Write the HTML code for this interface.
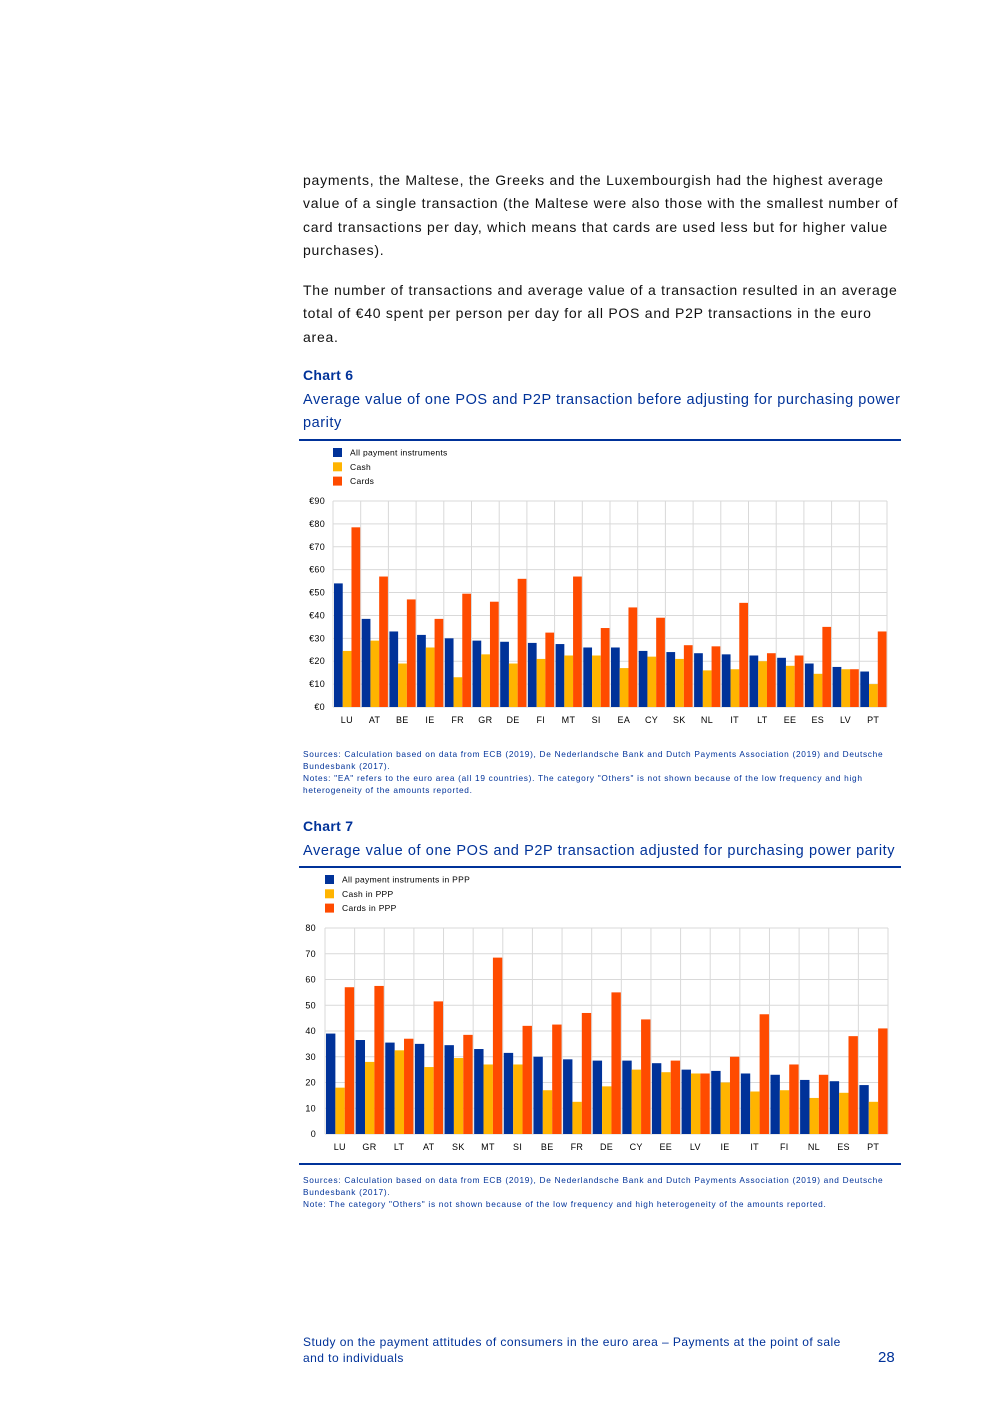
<!DOCTYPE html>
<html><head><meta charset="utf-8">
<style>
body{margin:0;background:#fff;}
#page{position:relative;width:992px;height:1403px;font-family:"Liberation Sans",Arial,sans-serif;}
.p{position:absolute;left:303px;width:620px;font-size:14px;line-height:23.3px;color:#111;letter-spacing:0.75px;white-space:nowrap;}
.h{position:absolute;left:303px;color:#003299;}
.rule{position:absolute;left:299px;width:602px;height:2px;background:#003299;}
.note{position:absolute;left:303px;width:620px;font-size:8.3px;line-height:12px;color:#003299;letter-spacing:0.7px;white-space:nowrap;}
svg{position:absolute;left:0;}
svg text{font-family:"Liberation Sans",Arial,sans-serif;letter-spacing:0.3px;}
</style></head><body>
<div id="page">
<div class="p" style="top:169px">payments, the Maltese, the Greeks and the Luxembourgish had the highest average<br>value of a single transaction (the Maltese were also those with the smallest number of<br>card transactions per day, which means that cards are used less but for higher value<br>purchases).</div>
<div class="p" style="top:279px">The number of transactions and average value of a transaction resulted in an average<br>total of €40 spent per person per day for all POS and P2P transactions in the euro<br>area.</div>
<div class="h" style="top:367px;font-size:14px;font-weight:bold;letter-spacing:0.3px">Chart 6</div>
<div class="h" style="top:389px;font-size:14.5px;line-height:23px;width:600px;letter-spacing:0.55px">Average value of one POS and P2P transaction before adjusting for purchasing power parity</div>
<div class="rule" style="top:439px"></div>
<svg id="c6" width="992" height="740" style="top:0"></svg>
<div class="note" style="top:748px">Sources: Calculation based on data from ECB (2019), De Nederlandsche Bank and Dutch Payments Association (2019) and Deutsche<br>Bundesbank (2017).<br>Notes: "EA" refers to the euro area (all 19 countries). The category "Others" is not shown because of the low frequency and high<br>heterogeneity of the amounts reported.</div>
<div class="h" style="top:818px;font-size:14px;font-weight:bold;letter-spacing:0.3px">Chart 7</div>
<div class="h" style="top:840px;font-size:14.5px;line-height:23px;width:600px;letter-spacing:0.6px">Average value of one POS and P2P transaction adjusted for purchasing power parity</div>
<div class="rule" style="top:866px"></div>
<svg id="c7" width="992" height="1160" style="top:0"></svg>
<div class="rule" style="top:1163px"></div>
<div class="note" style="top:1174px">Sources: Calculation based on data from ECB (2019), De Nederlandsche Bank and Dutch Payments Association (2019) and Deutsche<br>Bundesbank (2017).<br>Note: The category "Others" is not shown because of the low frequency and high heterogeneity of the amounts reported.</div>
<div class="h" style="top:1334px;font-size:12px;line-height:16px;width:560px;letter-spacing:0.45px">Study on the payment attitudes of consumers in the euro area – Payments at the point of sale and to individuals</div>
<div class="h" style="top:1349px;left:878px;font-size:15px">28</div>
</div>
<script>
const cats6=["LU","AT","BE","IE","FR","GR","DE","FI","MT","SI","EA","CY","SK","NL","IT","LT","EE","ES","LV","PT"];
const all6=[54,38.5,33,31.5,30,29,28.5,28,27.5,26,26,24.5,24,23.5,23,22.5,21.5,19,17.5,15.5];
const cash6=[24.5,29,19,26,13,23,19,21,22.5,22.5,17,22,21,16,16.5,20,18,14.5,16.5,10];
const cards6=[78.5,57,47,38.5,49.5,46,56,32.5,57,34.5,43.5,39,27,26.5,45.5,23.5,22.5,35,16.5,33];
const ticks6=["€0","€10","€20","€30","€40","€50","€60","€70","€80","€90"];
const legend6=["All payment instruments","Cash","Cards"];
const cats7=["LU","GR","LT","AT","SK","MT","SI","BE","FR","DE","CY","EE","LV","IE","IT","FI","NL","ES","PT"];
const all7=[39,36.5,35.5,35,34.5,33,31.5,30,29,28.5,28.5,27.5,25,24.5,23.5,23,21,20.5,19];
const cash7=[18,28,32.5,26,29.5,27,27,17,12.5,18.5,25,24,23.5,20,16.5,17,14,16,12.5];
const cards7=[57,57.5,37,51.5,38.5,68.5,42,42.5,47,55,44.5,28.5,23.5,30,46.5,27,23,38,41];
const ticks7=["0","10","20","30","40","50","60","70","80"];
const legend7=["All payment instruments in PPP","Cash in PPP","Cards in PPP"];
const colors=["#003299","#FFB400","#FF4B00"];
const NS="http://www.w3.org/2000/svg";
function mk(svg,tag,attrs){const e=document.createElementNS(NS,tag);for(const k in attrs)e.setAttribute(k,attrs[k]);svg.appendChild(e);return e;}
function draw(id,cfg){
  const svg=document.getElementById(id);
  const {x0,x1,yTop,yBot,max,cats,series,ticks,legend,lx,ly,tickX}=cfg;
  const y=v=>yBot-(v/max)*(yBot-yTop);
  const bw=(x1-x0)/cats.length;
  const x=i=>x0+i*bw;
  ticks.forEach((t,i)=>{const v=i*max/(ticks.length-1);
    const g=mk(svg,"line",{x1:x0,x2:x1,y1:y(v),y2:y(v),stroke:"#d9d9d9","stroke-width":1});
    
    
    const tx=mk(svg,"text",{x:tickX,y:y(v)+3,"font-size":"9","text-anchor":"end",fill:"#000"});tx.textContent=t;
    
    
  });
  for(let i=0;i<=cats.length;i++){const l=mk(svg,"line",{x1:x(i),x2:x(i),y1:yTop,y2:yBot,stroke:"#d9d9d9","stroke-width":1});
    
    }
  const sub=(bw-1.5)/3;
  cats.forEach((c,i)=>{
    series.forEach((s,k)=>{
      const r=mk(svg,"rect",{x:x(i)+1+k*sub,y:y(s[i]),width:sub,height:yBot-y(s[i]),fill:colors[k]});
      
      
    });
    const t=mk(svg,"text",{x:x(i)+bw/2,y:yBot+16,"font-size":"9","text-anchor":"middle",fill:"#000"});t.textContent=c;
    
    
  });
  legend.forEach((L,k)=>{
    const r=mk(svg,"rect",{x:lx,y:ly+k*14.3,width:9,height:9,fill:colors[k]});
    
    
    const t=mk(svg,"text",{x:lx+17,y:ly+k*14.3+7.5,"font-size":"8.5",fill:"#000"});t.textContent=L;
    
    
  });
}
draw("c6",{x0:333,x1:887,yTop:501,yBot:707,max:90,cats:cats6,series:[all6,cash6,cards6],ticks:ticks6,legend:legend6,lx:333,ly:448,tickX:325});
draw("c7",{x0:325,x1:888,yTop:928,yBot:1134,max:80,cats:cats7,series:[all7,cash7,cards7],ticks:ticks7,legend:legend7,lx:325,ly:875,tickX:316});
</script>
</body></html>
